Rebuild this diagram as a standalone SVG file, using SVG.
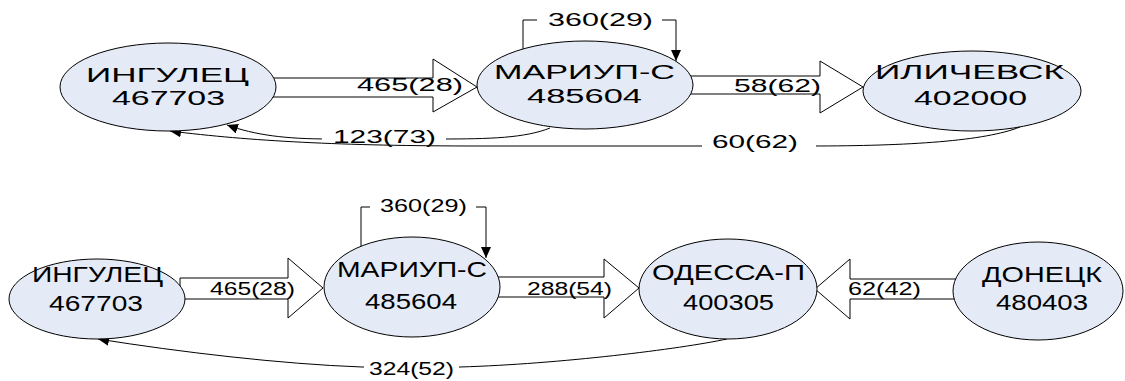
<svg xmlns="http://www.w3.org/2000/svg" width="1125" height="381" viewBox="0 0 1125 381">
<style>
.node ellipse{fill:#E4EAF6;stroke:#000;stroke-width:1}
.nt{font-family:"Liberation Sans",Arial,sans-serif;font-size:22px;fill:#000}
.nt.t{font-size:20px}
.el{font-family:"Liberation Sans",Arial,sans-serif;font-size:18px;fill:#000}
.blk{fill:#fff;stroke:#000;stroke-width:1}
.ln{fill:none;stroke:#000;stroke-width:1}
.bg{fill:#fff}
</style>
<defs>
<marker id="ah" markerUnits="userSpaceOnUse" markerWidth="12" markerHeight="10" refX="11" refY="5" orient="auto">
<path d="M0,0 L11,5 L0,10 Z" fill="#000"/>
</marker>
</defs>
<g id="connectors">
<polygon class="blk" points="270,78 433,78 433,59 477,87 433,112 433,97 270,97"/>
<text class="el" x="357" y="91" textLength="106" lengthAdjust="spacingAndGlyphs">465(28)</text>
<polygon class="blk" points="688,76 820,76 820,61 863,87 820,113 820,94 688,94"/>
<text class="el" x="734" y="92" textLength="87" lengthAdjust="spacingAndGlyphs">58(62)</text>
<path class="ln" d="M523,49 V20 H537"/>
<path class="ln" d="M662,20 H676 V61" marker-end="url(#ah)"/>
<text class="el" x="548" y="26" textLength="105" lengthAdjust="spacingAndGlyphs">360(29)</text>
<path class="ln" d="M550,128 C525,138 490,139 440,139 L330,139 C285,139 255,135 227,125" marker-end="url(#ah)"/>
<rect class="bg" x="322" y="128" width="124" height="18"/>
<text class="el" x="333" y="143" textLength="103" lengthAdjust="spacingAndGlyphs">123(73)</text>
<path class="ln" d="M1020,127 C985,141 910,146 810,146 L480,146 C340,146 250,141 170,131" marker-end="url(#ah)"/>
<rect class="bg" x="702" y="134" width="114" height="18"/>
<text class="el" x="712" y="148" textLength="86" lengthAdjust="spacingAndGlyphs">60(62)</text>
<polygon class="blk" points="180,278 288,278 288,258 323,288 288,318 288,299 180,299"/>
<text class="el" x="210" y="295" textLength="85" lengthAdjust="spacingAndGlyphs">465(28)</text>
<polygon class="blk" points="495,277 604,277 604,259 639,288 604,318 604,297 495,297"/>
<text class="el" x="527" y="295" textLength="85" lengthAdjust="spacingAndGlyphs">288(54)</text>
<polygon class="blk" points="960,279 850,279 850,259 815,289 850,319 850,299 960,299"/>
<text class="el" x="848" y="295" textLength="73" lengthAdjust="spacingAndGlyphs">62(42)</text>
<path class="ln" d="M361,246 V207 H370"/>
<path class="ln" d="M476,207 H486 V258" marker-end="url(#ah)"/>
<text class="el" x="380" y="212" textLength="87" lengthAdjust="spacingAndGlyphs">360(29)</text>
<path class="ln" d="M727,339 C680,349 560,364 460,367 L362,367 C280,364 180,352 98,339" marker-end="url(#ah)"/>
<rect class="bg" x="364" y="358" width="95" height="20"/>
<text class="el" x="369" y="375" textLength="85" lengthAdjust="spacingAndGlyphs">324(52)</text>
</g>
<g id="n1" class="node">
<ellipse cx="168" cy="87" rx="108" ry="44"/>
<text class="nt t" x="86" y="82" textLength="163" lengthAdjust="spacingAndGlyphs">ИНГУЛЕЦ</text>
<text class="nt t" x="112" y="105" textLength="113" lengthAdjust="spacingAndGlyphs">467703</text>
</g>
<g id="n2" class="node">
<ellipse cx="585" cy="85" rx="108" ry="44"/>
<text class="nt t" x="494" y="79" textLength="181" lengthAdjust="spacingAndGlyphs">МАРИУП-С</text>
<text class="nt t" x="527" y="103" textLength="115" lengthAdjust="spacingAndGlyphs">485604</text>
</g>
<g id="n3" class="node">
<ellipse cx="972" cy="91" rx="109" ry="40"/>
<text class="nt t" x="875" y="79" textLength="189" lengthAdjust="spacingAndGlyphs">ИЛИЧЕВСК</text>
<text class="nt t" x="914" y="105" textLength="113" lengthAdjust="spacingAndGlyphs">402000</text>
</g>
<g id="n4" class="node">
<ellipse cx="97" cy="299" rx="88" ry="40"/>
<text class="nt" x="32" y="282" textLength="131" lengthAdjust="spacingAndGlyphs">ИНГУЛЕЦ</text>
<text class="nt" x="49" y="311" textLength="94" lengthAdjust="spacingAndGlyphs">467703</text>
</g>
<g id="n5" class="node">
<ellipse cx="412" cy="287" rx="88" ry="50"/>
<text class="nt" x="337" y="277" textLength="150" lengthAdjust="spacingAndGlyphs">МАРИУП-С</text>
<text class="nt" x="365" y="309" textLength="92" lengthAdjust="spacingAndGlyphs">485604</text>
</g>
<g id="n6" class="node">
<ellipse cx="728" cy="289" rx="89" ry="50"/>
<text class="nt" x="652" y="280" textLength="153" lengthAdjust="spacingAndGlyphs">ОДЕССА-П</text>
<text class="nt" x="683" y="310" textLength="91" lengthAdjust="spacingAndGlyphs">400305</text>
</g>
<g id="n7" class="node">
<ellipse cx="1038" cy="291" rx="85" ry="49"/>
<text class="nt" x="982" y="282" textLength="120" lengthAdjust="spacingAndGlyphs">ДОНЕЦК</text>
<text class="nt" x="996" y="310" textLength="92" lengthAdjust="spacingAndGlyphs">480403</text>
</g>
</svg>
